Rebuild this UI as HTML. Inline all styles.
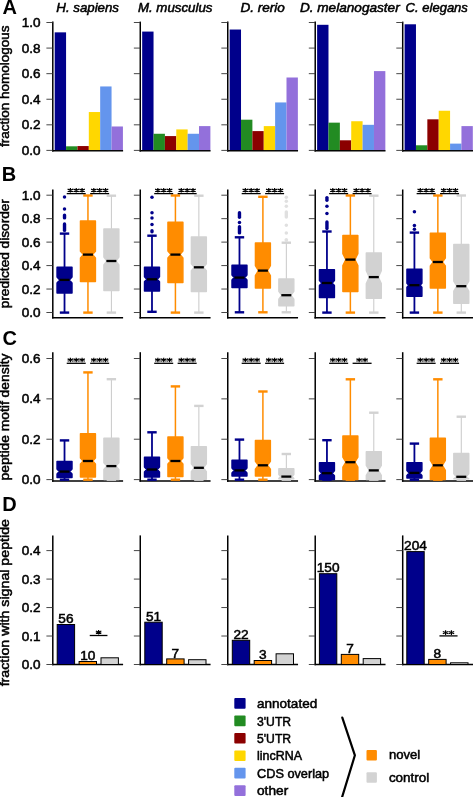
<!DOCTYPE html>
<html><head><meta charset="utf-8"><style>
html,body{margin:0;padding:0;background:#fff;}
svg{display:block;will-change:transform;}
text{font-family:"Liberation Sans",sans-serif;}
</style></head><body>
<svg width="473" height="797" viewBox="0 0 473 797">
<rect width="473" height="797" fill="#fff"/>
<text x="2.6" y="14" font-size="20" text-anchor="start" font-weight="bold" fill="#000">A</text>
<text x="1.7" y="181.3" font-size="20" text-anchor="start" font-weight="bold" fill="#000">B</text>
<text x="2.6" y="345.4" font-size="20" text-anchor="start" font-weight="bold" fill="#000">C</text>
<text x="2.2" y="510.6" font-size="20" text-anchor="start" font-weight="bold" fill="#000">D</text>
<text x="56.3" y="12.2" font-size="12.6" text-anchor="start" font-style="italic" textLength="62.7" lengthAdjust="spacingAndGlyphs" fill="#000" stroke="#000" stroke-width="0.5">H. sapiens</text>
<text x="137.9" y="12.2" font-size="12.6" text-anchor="start" font-style="italic" textLength="74.6" lengthAdjust="spacingAndGlyphs" fill="#000" stroke="#000" stroke-width="0.5">M. musculus</text>
<text x="240.4" y="12.2" font-size="12.6" text-anchor="start" font-style="italic" textLength="44.4" lengthAdjust="spacingAndGlyphs" fill="#000" stroke="#000" stroke-width="0.5">D. rerio</text>
<text x="299.9" y="12.2" font-size="12.6" text-anchor="start" font-style="italic" textLength="99.8" lengthAdjust="spacingAndGlyphs" fill="#000" stroke="#000" stroke-width="0.5">D. melanogaster</text>
<text x="405.6" y="12.2" font-size="12.6" text-anchor="start" font-style="italic" textLength="62.3" lengthAdjust="spacingAndGlyphs" fill="#000" stroke="#000" stroke-width="0.5">C. elegans</text>
<text transform="translate(9.4,86.25) rotate(-90)" x="0" y="0" font-size="12.2" text-anchor="middle" textLength="121.3" lengthAdjust="spacingAndGlyphs" stroke="#000" stroke-width="0.5">fraction homologous</text>
<text transform="translate(9.4,253.7) rotate(-90)" x="0" y="0" font-size="12.2" text-anchor="middle" textLength="109.2" lengthAdjust="spacingAndGlyphs" stroke="#000" stroke-width="0.5">predicted disorder</text>
<text transform="translate(9.4,417) rotate(-90)" x="0" y="0" font-size="12.2" text-anchor="middle" textLength="127" lengthAdjust="spacingAndGlyphs" stroke="#000" stroke-width="0.5">peptide motif density</text>
<text transform="translate(9.4,602.7) rotate(-90)" x="0" y="0" font-size="12.2" text-anchor="middle" textLength="167.3" lengthAdjust="spacingAndGlyphs" stroke="#000" stroke-width="0.5">fraction with signal peptide</text>
<line x1="52.8" y1="21.6" x2="52.8" y2="151.55" stroke="#000" stroke-width="1.5"/>
<line x1="52.05" y1="150.8" x2="123.1" y2="150.8" stroke="#000" stroke-width="1.5"/>
<line x1="46.4" y1="150.4" x2="52.8" y2="150.4" stroke="#333" stroke-width="0.9"/>
<line x1="46.4" y1="124.82" x2="52.8" y2="124.82" stroke="#333" stroke-width="0.9"/>
<line x1="46.4" y1="99.24" x2="52.8" y2="99.24" stroke="#333" stroke-width="0.9"/>
<line x1="46.4" y1="73.66" x2="52.8" y2="73.66" stroke="#333" stroke-width="0.9"/>
<line x1="46.4" y1="48.08" x2="52.8" y2="48.08" stroke="#333" stroke-width="0.9"/>
<line x1="46.4" y1="22.5" x2="52.8" y2="22.5" stroke="#333" stroke-width="0.9"/>
<text x="40.5" y="154.9" font-size="12.6" text-anchor="end" textLength="18.8" lengthAdjust="spacingAndGlyphs" fill="#000" stroke="#000" stroke-width="0.5">0.0</text>
<text x="40.5" y="129.32" font-size="12.6" text-anchor="end" textLength="18.8" lengthAdjust="spacingAndGlyphs" fill="#000" stroke="#000" stroke-width="0.5">0.2</text>
<text x="40.5" y="103.74" font-size="12.6" text-anchor="end" textLength="18.8" lengthAdjust="spacingAndGlyphs" fill="#000" stroke="#000" stroke-width="0.5">0.4</text>
<text x="40.5" y="78.16" font-size="12.6" text-anchor="end" textLength="18.8" lengthAdjust="spacingAndGlyphs" fill="#000" stroke="#000" stroke-width="0.5">0.6</text>
<text x="40.5" y="52.58" font-size="12.6" text-anchor="end" textLength="18.8" lengthAdjust="spacingAndGlyphs" fill="#000" stroke="#000" stroke-width="0.5">0.8</text>
<text x="40.5" y="27" font-size="12.6" text-anchor="end" textLength="18.8" lengthAdjust="spacingAndGlyphs" fill="#000" stroke="#000" stroke-width="0.5">1.0</text>
<line x1="140.27" y1="21.6" x2="140.27" y2="151.55" stroke="#000" stroke-width="1.5"/>
<line x1="139.52" y1="150.8" x2="210.57" y2="150.8" stroke="#000" stroke-width="1.5"/>
<line x1="133.87" y1="150.4" x2="140.27" y2="150.4" stroke="#333" stroke-width="0.9"/>
<line x1="133.87" y1="124.82" x2="140.27" y2="124.82" stroke="#333" stroke-width="0.9"/>
<line x1="133.87" y1="99.24" x2="140.27" y2="99.24" stroke="#333" stroke-width="0.9"/>
<line x1="133.87" y1="73.66" x2="140.27" y2="73.66" stroke="#333" stroke-width="0.9"/>
<line x1="133.87" y1="48.08" x2="140.27" y2="48.08" stroke="#333" stroke-width="0.9"/>
<line x1="133.87" y1="22.5" x2="140.27" y2="22.5" stroke="#333" stroke-width="0.9"/>
<line x1="227.75" y1="21.6" x2="227.75" y2="151.55" stroke="#000" stroke-width="1.5"/>
<line x1="227" y1="150.8" x2="298.05" y2="150.8" stroke="#000" stroke-width="1.5"/>
<line x1="221.35" y1="150.4" x2="227.75" y2="150.4" stroke="#333" stroke-width="0.9"/>
<line x1="221.35" y1="124.82" x2="227.75" y2="124.82" stroke="#333" stroke-width="0.9"/>
<line x1="221.35" y1="99.24" x2="227.75" y2="99.24" stroke="#333" stroke-width="0.9"/>
<line x1="221.35" y1="73.66" x2="227.75" y2="73.66" stroke="#333" stroke-width="0.9"/>
<line x1="221.35" y1="48.08" x2="227.75" y2="48.08" stroke="#333" stroke-width="0.9"/>
<line x1="221.35" y1="22.5" x2="227.75" y2="22.5" stroke="#333" stroke-width="0.9"/>
<line x1="315.22" y1="21.6" x2="315.22" y2="151.55" stroke="#000" stroke-width="1.5"/>
<line x1="314.47" y1="150.8" x2="385.52" y2="150.8" stroke="#000" stroke-width="1.5"/>
<line x1="308.82" y1="150.4" x2="315.22" y2="150.4" stroke="#333" stroke-width="0.9"/>
<line x1="308.82" y1="124.82" x2="315.22" y2="124.82" stroke="#333" stroke-width="0.9"/>
<line x1="308.82" y1="99.24" x2="315.22" y2="99.24" stroke="#333" stroke-width="0.9"/>
<line x1="308.82" y1="73.66" x2="315.22" y2="73.66" stroke="#333" stroke-width="0.9"/>
<line x1="308.82" y1="48.08" x2="315.22" y2="48.08" stroke="#333" stroke-width="0.9"/>
<line x1="308.82" y1="22.5" x2="315.22" y2="22.5" stroke="#333" stroke-width="0.9"/>
<line x1="402.7" y1="21.6" x2="402.7" y2="151.55" stroke="#000" stroke-width="1.5"/>
<line x1="401.95" y1="150.8" x2="473" y2="150.8" stroke="#000" stroke-width="1.5"/>
<line x1="396.3" y1="150.4" x2="402.7" y2="150.4" stroke="#333" stroke-width="0.9"/>
<line x1="396.3" y1="124.82" x2="402.7" y2="124.82" stroke="#333" stroke-width="0.9"/>
<line x1="396.3" y1="99.24" x2="402.7" y2="99.24" stroke="#333" stroke-width="0.9"/>
<line x1="396.3" y1="73.66" x2="402.7" y2="73.66" stroke="#333" stroke-width="0.9"/>
<line x1="396.3" y1="48.08" x2="402.7" y2="48.08" stroke="#333" stroke-width="0.9"/>
<line x1="396.3" y1="22.5" x2="402.7" y2="22.5" stroke="#333" stroke-width="0.9"/>
<rect x="54.7" y="32.35" width="11.37" height="117.7" fill="#00008B"/>
<rect x="66.07" y="146.31" width="11.37" height="3.74" fill="#228B22"/>
<rect x="77.44" y="146.05" width="11.37" height="4" fill="#8B0000"/>
<rect x="88.81" y="112.03" width="11.37" height="38.02" fill="#FFD700"/>
<rect x="100.18" y="86.45" width="11.37" height="63.6" fill="#6495ED"/>
<rect x="111.55" y="126.48" width="11.37" height="23.57" fill="#9370DB"/>
<rect x="142.17" y="31.58" width="11.37" height="118.47" fill="#00008B"/>
<rect x="153.54" y="133.77" width="11.37" height="16.28" fill="#228B22"/>
<rect x="164.91" y="136.08" width="11.37" height="13.97" fill="#8B0000"/>
<rect x="176.28" y="129.42" width="11.37" height="20.63" fill="#FFD700"/>
<rect x="187.65" y="133.77" width="11.37" height="16.28" fill="#6495ED"/>
<rect x="199.02" y="126.1" width="11.37" height="23.95" fill="#9370DB"/>
<rect x="229.65" y="29.53" width="11.37" height="120.52" fill="#00008B"/>
<rect x="241.02" y="119.7" width="11.37" height="30.35" fill="#228B22"/>
<rect x="252.39" y="131.09" width="11.37" height="18.96" fill="#8B0000"/>
<rect x="263.76" y="126.1" width="11.37" height="23.95" fill="#FFD700"/>
<rect x="275.13" y="102.44" width="11.37" height="47.61" fill="#6495ED"/>
<rect x="286.5" y="77.5" width="11.37" height="72.55" fill="#9370DB"/>
<rect x="317.12" y="24.8" width="11.37" height="125.25" fill="#00008B"/>
<rect x="328.49" y="122.65" width="11.37" height="27.4" fill="#228B22"/>
<rect x="339.86" y="140.3" width="11.37" height="9.75" fill="#8B0000"/>
<rect x="351.23" y="121.24" width="11.37" height="28.81" fill="#FFD700"/>
<rect x="362.6" y="124.82" width="11.37" height="25.23" fill="#6495ED"/>
<rect x="373.97" y="71.1" width="11.37" height="78.95" fill="#9370DB"/>
<rect x="404.6" y="24.29" width="11.37" height="125.76" fill="#00008B"/>
<rect x="415.97" y="145.28" width="11.37" height="4.77" fill="#228B22"/>
<rect x="427.34" y="119.32" width="11.37" height="30.73" fill="#8B0000"/>
<rect x="438.71" y="110.75" width="11.37" height="39.3" fill="#FFD700"/>
<rect x="450.08" y="143.62" width="11.37" height="6.43" fill="#6495ED"/>
<rect x="461.45" y="126.1" width="11.37" height="23.95" fill="#9370DB"/>
<line x1="52.8" y1="189.5" x2="52.8" y2="318.55" stroke="#000" stroke-width="1.5"/>
<line x1="52.05" y1="317.8" x2="123.1" y2="317.8" stroke="#000" stroke-width="1.5"/>
<line x1="46.4" y1="312.5" x2="52.8" y2="312.5" stroke="#333" stroke-width="0.9"/>
<line x1="46.4" y1="289.04" x2="52.8" y2="289.04" stroke="#333" stroke-width="0.9"/>
<line x1="46.4" y1="265.58" x2="52.8" y2="265.58" stroke="#333" stroke-width="0.9"/>
<line x1="46.4" y1="242.12" x2="52.8" y2="242.12" stroke="#333" stroke-width="0.9"/>
<line x1="46.4" y1="218.66" x2="52.8" y2="218.66" stroke="#333" stroke-width="0.9"/>
<line x1="46.4" y1="195.2" x2="52.8" y2="195.2" stroke="#333" stroke-width="0.9"/>
<text x="40.5" y="317" font-size="12.6" text-anchor="end" textLength="18.8" lengthAdjust="spacingAndGlyphs" fill="#000" stroke="#000" stroke-width="0.5">0.0</text>
<text x="40.5" y="293.54" font-size="12.6" text-anchor="end" textLength="18.8" lengthAdjust="spacingAndGlyphs" fill="#000" stroke="#000" stroke-width="0.5">0.2</text>
<text x="40.5" y="270.08" font-size="12.6" text-anchor="end" textLength="18.8" lengthAdjust="spacingAndGlyphs" fill="#000" stroke="#000" stroke-width="0.5">0.4</text>
<text x="40.5" y="246.62" font-size="12.6" text-anchor="end" textLength="18.8" lengthAdjust="spacingAndGlyphs" fill="#000" stroke="#000" stroke-width="0.5">0.6</text>
<text x="40.5" y="223.16" font-size="12.6" text-anchor="end" textLength="18.8" lengthAdjust="spacingAndGlyphs" fill="#000" stroke="#000" stroke-width="0.5">0.8</text>
<text x="40.5" y="199.7" font-size="12.6" text-anchor="end" textLength="18.8" lengthAdjust="spacingAndGlyphs" fill="#000" stroke="#000" stroke-width="0.5">1.0</text>
<line x1="140.27" y1="189.5" x2="140.27" y2="318.55" stroke="#000" stroke-width="1.5"/>
<line x1="139.52" y1="317.8" x2="210.57" y2="317.8" stroke="#000" stroke-width="1.5"/>
<line x1="133.87" y1="312.5" x2="140.27" y2="312.5" stroke="#333" stroke-width="0.9"/>
<line x1="133.87" y1="289.04" x2="140.27" y2="289.04" stroke="#333" stroke-width="0.9"/>
<line x1="133.87" y1="265.58" x2="140.27" y2="265.58" stroke="#333" stroke-width="0.9"/>
<line x1="133.87" y1="242.12" x2="140.27" y2="242.12" stroke="#333" stroke-width="0.9"/>
<line x1="133.87" y1="218.66" x2="140.27" y2="218.66" stroke="#333" stroke-width="0.9"/>
<line x1="133.87" y1="195.2" x2="140.27" y2="195.2" stroke="#333" stroke-width="0.9"/>
<line x1="227.75" y1="189.5" x2="227.75" y2="318.55" stroke="#000" stroke-width="1.5"/>
<line x1="227" y1="317.8" x2="298.05" y2="317.8" stroke="#000" stroke-width="1.5"/>
<line x1="221.35" y1="312.5" x2="227.75" y2="312.5" stroke="#333" stroke-width="0.9"/>
<line x1="221.35" y1="289.04" x2="227.75" y2="289.04" stroke="#333" stroke-width="0.9"/>
<line x1="221.35" y1="265.58" x2="227.75" y2="265.58" stroke="#333" stroke-width="0.9"/>
<line x1="221.35" y1="242.12" x2="227.75" y2="242.12" stroke="#333" stroke-width="0.9"/>
<line x1="221.35" y1="218.66" x2="227.75" y2="218.66" stroke="#333" stroke-width="0.9"/>
<line x1="221.35" y1="195.2" x2="227.75" y2="195.2" stroke="#333" stroke-width="0.9"/>
<line x1="315.22" y1="189.5" x2="315.22" y2="318.55" stroke="#000" stroke-width="1.5"/>
<line x1="314.47" y1="317.8" x2="385.52" y2="317.8" stroke="#000" stroke-width="1.5"/>
<line x1="308.82" y1="312.5" x2="315.22" y2="312.5" stroke="#333" stroke-width="0.9"/>
<line x1="308.82" y1="289.04" x2="315.22" y2="289.04" stroke="#333" stroke-width="0.9"/>
<line x1="308.82" y1="265.58" x2="315.22" y2="265.58" stroke="#333" stroke-width="0.9"/>
<line x1="308.82" y1="242.12" x2="315.22" y2="242.12" stroke="#333" stroke-width="0.9"/>
<line x1="308.82" y1="218.66" x2="315.22" y2="218.66" stroke="#333" stroke-width="0.9"/>
<line x1="308.82" y1="195.2" x2="315.22" y2="195.2" stroke="#333" stroke-width="0.9"/>
<line x1="402.7" y1="189.5" x2="402.7" y2="318.55" stroke="#000" stroke-width="1.5"/>
<line x1="401.95" y1="317.8" x2="473" y2="317.8" stroke="#000" stroke-width="1.5"/>
<line x1="396.3" y1="312.5" x2="402.7" y2="312.5" stroke="#333" stroke-width="0.9"/>
<line x1="396.3" y1="289.04" x2="402.7" y2="289.04" stroke="#333" stroke-width="0.9"/>
<line x1="396.3" y1="265.58" x2="402.7" y2="265.58" stroke="#333" stroke-width="0.9"/>
<line x1="396.3" y1="242.12" x2="402.7" y2="242.12" stroke="#333" stroke-width="0.9"/>
<line x1="396.3" y1="218.66" x2="402.7" y2="218.66" stroke="#333" stroke-width="0.9"/>
<line x1="396.3" y1="195.2" x2="402.7" y2="195.2" stroke="#333" stroke-width="0.9"/>
<line x1="64.52" y1="233.6" x2="64.52" y2="267.3" stroke="#00008B" stroke-width="1.8"/>
<line x1="64.52" y1="293.1" x2="64.52" y2="312.6" stroke="#00008B" stroke-width="1.8"/>
<line x1="59.82" y1="233.6" x2="69.22" y2="233.6" stroke="#00008B" stroke-width="2.4"/>
<line x1="59.82" y1="312.6" x2="69.22" y2="312.6" stroke="#00008B" stroke-width="2.4"/>
<polygon points="57.07,267.3 71.97,267.3 71.97,276.9 69.27,279.9 71.97,282.9 71.97,293.1 57.07,293.1 57.07,282.9 59.77,279.9 57.07,276.9" fill="#00008B" stroke="#00008B" stroke-width="1.5" stroke-linejoin="round"/>
<line x1="59.52" y1="279.9" x2="69.52" y2="279.9" stroke="#000" stroke-width="2.3"/>
<circle cx="64.52" cy="197" r="1.75" fill="#00008B"/>
<circle cx="64.52" cy="209.1" r="1.75" fill="#00008B"/>
<line x1="64.52" y1="215.1" x2="64.52" y2="217.9" stroke="#00008B" stroke-width="3.4" stroke-linecap="round"/>
<line x1="64.52" y1="223.9" x2="64.52" y2="230.4" stroke="#00008B" stroke-width="3.4" stroke-linecap="round"/>
<line x1="87.95" y1="195.5" x2="87.95" y2="220.9" stroke="#FF8C00" stroke-width="1.5"/>
<line x1="87.95" y1="281.6" x2="87.95" y2="312.6" stroke="#FF8C00" stroke-width="1.5"/>
<line x1="83.25" y1="195.5" x2="92.65" y2="195.5" stroke="#FF8C00" stroke-width="2.4"/>
<line x1="83.25" y1="312.6" x2="92.65" y2="312.6" stroke="#FF8C00" stroke-width="2.4"/>
<polygon points="80.5,220.9 95.4,220.9 95.4,251.2 92.4,254.6 95.4,258 95.4,281.6 80.5,281.6 80.5,258 83.5,254.6 80.5,251.2" fill="#FF8C00" stroke="#FF8C00" stroke-width="1.5" stroke-linejoin="round"/>
<line x1="82.95" y1="254.6" x2="92.95" y2="254.6" stroke="#000" stroke-width="2.3"/>
<line x1="111.38" y1="195.7" x2="111.38" y2="229" stroke="#C8C8C8" stroke-width="1"/>
<line x1="111.38" y1="290.6" x2="111.38" y2="312.6" stroke="#C8C8C8" stroke-width="1"/>
<line x1="106.68" y1="195.7" x2="116.08" y2="195.7" stroke="#D2D2D2" stroke-width="2.4"/>
<line x1="106.68" y1="312.6" x2="116.08" y2="312.6" stroke="#D2D2D2" stroke-width="2.4"/>
<polygon points="103.93,229 118.83,229 118.83,257 115.83,261 118.83,265 118.83,290.6 103.93,290.6 103.93,265 106.93,261 103.93,257" fill="#D2D2D2" stroke="#D2D2D2" stroke-width="1.5" stroke-linejoin="round"/>
<line x1="106.38" y1="261" x2="116.38" y2="261" stroke="#000" stroke-width="2.3"/>
<line x1="66.73" y1="193.6" x2="85.73" y2="193.6" stroke="#000" stroke-width="1.3"/>
<path d="M70.38 188V192.6M67.63 189.15L73.13 191.45M67.63 191.45L73.13 189.15" stroke="#000" stroke-width="1.2" fill="none"/>
<path d="M76.23 188V192.6M73.48 189.15L78.98 191.45M73.48 191.45L78.98 189.15" stroke="#000" stroke-width="1.2" fill="none"/>
<path d="M82.08 188V192.6M79.33 189.15L84.83 191.45M79.33 191.45L84.83 189.15" stroke="#000" stroke-width="1.2" fill="none"/>
<line x1="90.17" y1="193.6" x2="109.17" y2="193.6" stroke="#000" stroke-width="1.3"/>
<path d="M93.82 188V192.6M91.07 189.15L96.57 191.45M91.07 191.45L96.57 189.15" stroke="#000" stroke-width="1.2" fill="none"/>
<path d="M99.67 188V192.6M96.92 189.15L102.42 191.45M96.92 191.45L102.42 189.15" stroke="#000" stroke-width="1.2" fill="none"/>
<path d="M105.52 188V192.6M102.77 189.15L108.27 191.45M102.77 191.45L108.27 189.15" stroke="#000" stroke-width="1.2" fill="none"/>
<line x1="151.99" y1="235.7" x2="151.99" y2="267.3" stroke="#00008B" stroke-width="1.8"/>
<line x1="151.99" y1="291" x2="151.99" y2="311.8" stroke="#00008B" stroke-width="1.8"/>
<line x1="147.29" y1="235.7" x2="156.69" y2="235.7" stroke="#00008B" stroke-width="2.4"/>
<line x1="147.29" y1="311.8" x2="156.69" y2="311.8" stroke="#00008B" stroke-width="2.4"/>
<polygon points="144.54,267.3 159.44,267.3 159.44,276.8 157.19,279.3 159.44,281.8 159.44,291 144.54,291 144.54,281.8 146.79,279.3 144.54,276.8" fill="#00008B" stroke="#00008B" stroke-width="1.5" stroke-linejoin="round"/>
<line x1="146.99" y1="279.3" x2="156.99" y2="279.3" stroke="#000" stroke-width="2.3"/>
<circle cx="151.99" cy="197.2" r="1.75" fill="#00008B"/>
<circle cx="151.99" cy="212.7" r="1.75" fill="#00008B"/>
<circle cx="151.99" cy="217.9" r="1.75" fill="#00008B"/>
<circle cx="151.99" cy="224.6" r="1.75" fill="#00008B"/>
<line x1="151.99" y1="230.8" x2="151.99" y2="231.7" stroke="#00008B" stroke-width="3.4" stroke-linecap="round"/>
<line x1="175.42" y1="195.5" x2="175.42" y2="222.2" stroke="#FF8C00" stroke-width="1.5"/>
<line x1="175.42" y1="282.5" x2="175.42" y2="312.6" stroke="#FF8C00" stroke-width="1.5"/>
<line x1="170.72" y1="195.5" x2="180.12" y2="195.5" stroke="#FF8C00" stroke-width="2.4"/>
<line x1="170.72" y1="312.6" x2="180.12" y2="312.6" stroke="#FF8C00" stroke-width="2.4"/>
<polygon points="167.97,222.2 182.87,222.2 182.87,251.1 179.87,254.6 182.87,258.1 182.87,282.5 167.97,282.5 167.97,258.1 170.97,254.6 167.97,251.1" fill="#FF8C00" stroke="#FF8C00" stroke-width="1.5" stroke-linejoin="round"/>
<line x1="170.42" y1="254.6" x2="180.42" y2="254.6" stroke="#000" stroke-width="2.3"/>
<line x1="198.86" y1="195.7" x2="198.86" y2="236.9" stroke="#C8C8C8" stroke-width="1"/>
<line x1="198.86" y1="291.4" x2="198.86" y2="312.6" stroke="#C8C8C8" stroke-width="1"/>
<line x1="194.16" y1="195.7" x2="203.56" y2="195.7" stroke="#D2D2D2" stroke-width="2.4"/>
<line x1="194.16" y1="312.6" x2="203.56" y2="312.6" stroke="#D2D2D2" stroke-width="2.4"/>
<polygon points="191.41,236.9 206.31,236.9 206.31,263.8 203.31,267.3 206.31,270.8 206.31,291.4 191.41,291.4 191.41,270.8 194.41,267.3 191.41,263.8" fill="#D2D2D2" stroke="#D2D2D2" stroke-width="1.5" stroke-linejoin="round"/>
<line x1="193.86" y1="267.3" x2="203.86" y2="267.3" stroke="#000" stroke-width="2.3"/>
<line x1="154.21" y1="193.6" x2="173.21" y2="193.6" stroke="#000" stroke-width="1.3"/>
<path d="M157.86 188V192.6M155.11 189.15L160.61 191.45M155.11 191.45L160.61 189.15" stroke="#000" stroke-width="1.2" fill="none"/>
<path d="M163.71 188V192.6M160.96 189.15L166.46 191.45M160.96 191.45L166.46 189.15" stroke="#000" stroke-width="1.2" fill="none"/>
<path d="M169.56 188V192.6M166.81 189.15L172.31 191.45M166.81 191.45L172.31 189.15" stroke="#000" stroke-width="1.2" fill="none"/>
<line x1="177.64" y1="193.6" x2="196.64" y2="193.6" stroke="#000" stroke-width="1.3"/>
<path d="M181.29 188V192.6M178.54 189.15L184.04 191.45M178.54 191.45L184.04 189.15" stroke="#000" stroke-width="1.2" fill="none"/>
<path d="M187.14 188V192.6M184.39 189.15L189.89 191.45M184.39 191.45L189.89 189.15" stroke="#000" stroke-width="1.2" fill="none"/>
<path d="M192.99 188V192.6M190.24 189.15L195.74 191.45M190.24 191.45L195.74 189.15" stroke="#000" stroke-width="1.2" fill="none"/>
<line x1="239.47" y1="237.3" x2="239.47" y2="265.2" stroke="#00008B" stroke-width="1.8"/>
<line x1="239.47" y1="287.6" x2="239.47" y2="312.3" stroke="#00008B" stroke-width="1.8"/>
<line x1="234.77" y1="237.3" x2="244.17" y2="237.3" stroke="#00008B" stroke-width="2.4"/>
<line x1="234.77" y1="312.3" x2="244.17" y2="312.3" stroke="#00008B" stroke-width="2.4"/>
<polygon points="232.02,265.2 246.92,265.2 246.92,275.1 244.67,277.6 246.92,280.1 246.92,287.6 232.02,287.6 232.02,280.1 234.27,277.6 232.02,275.1" fill="#00008B" stroke="#00008B" stroke-width="1.5" stroke-linejoin="round"/>
<line x1="234.47" y1="277.6" x2="244.47" y2="277.6" stroke="#000" stroke-width="2.3"/>
<line x1="239.47" y1="212.8" x2="239.47" y2="217.2" stroke="#00008B" stroke-width="3.4" stroke-linecap="round"/>
<circle cx="239.47" cy="222.4" r="1.75" fill="#00008B"/>
<line x1="239.47" y1="226.7" x2="239.47" y2="232.9" stroke="#00008B" stroke-width="3.4" stroke-linecap="round"/>
<line x1="262.9" y1="196.8" x2="262.9" y2="242.9" stroke="#FF8C00" stroke-width="1.5"/>
<line x1="262.9" y1="288" x2="262.9" y2="312.3" stroke="#FF8C00" stroke-width="1.5"/>
<line x1="258.2" y1="196.8" x2="267.6" y2="196.8" stroke="#FF8C00" stroke-width="2.4"/>
<line x1="258.2" y1="312.3" x2="267.6" y2="312.3" stroke="#FF8C00" stroke-width="2.4"/>
<polygon points="255.45,242.9 270.35,242.9 270.35,265.6 267.35,270.6 270.35,275.6 270.35,288 255.45,288 255.45,275.6 258.45,270.6 255.45,265.6" fill="#FF8C00" stroke="#FF8C00" stroke-width="1.5" stroke-linejoin="round"/>
<line x1="257.9" y1="270.6" x2="267.9" y2="270.6" stroke="#000" stroke-width="2.3"/>
<line x1="286.33" y1="242.7" x2="286.33" y2="279.1" stroke="#C8C8C8" stroke-width="1"/>
<line x1="286.33" y1="305.8" x2="286.33" y2="312.3" stroke="#C8C8C8" stroke-width="1"/>
<line x1="281.63" y1="242.7" x2="291.03" y2="242.7" stroke="#D2D2D2" stroke-width="2.4"/>
<line x1="281.63" y1="312.3" x2="291.03" y2="312.3" stroke="#D2D2D2" stroke-width="2.4"/>
<polygon points="278.88,279.1 293.78,279.1 293.78,291.2 290.78,295.2 293.78,299.2 293.78,305.8 278.88,305.8 278.88,299.2 281.88,295.2 278.88,291.2" fill="#D2D2D2" stroke="#D2D2D2" stroke-width="1.5" stroke-linejoin="round"/>
<line x1="281.33" y1="295.2" x2="291.33" y2="295.2" stroke="#000" stroke-width="2.3"/>
<circle cx="286.33" cy="197.2" r="1.75" fill="#E0E0E0"/>
<circle cx="286.33" cy="201.3" r="1.75" fill="#E0E0E0"/>
<circle cx="286.33" cy="206.2" r="1.75" fill="#E0E0E0"/>
<line x1="286.33" y1="211.9" x2="286.33" y2="217" stroke="#E0E0E0" stroke-width="3.4" stroke-linecap="round"/>
<line x1="286.33" y1="225.1" x2="286.33" y2="225.3" stroke="#E0E0E0" stroke-width="3.4" stroke-linecap="round"/>
<circle cx="286.33" cy="232.9" r="1.75" fill="#E0E0E0"/>
<line x1="286.33" y1="240.6" x2="286.33" y2="239.6" stroke="#E0E0E0" stroke-width="3.4" stroke-linecap="round"/>
<line x1="241.68" y1="193.6" x2="260.68" y2="193.6" stroke="#000" stroke-width="1.3"/>
<path d="M245.33 188V192.6M242.58 189.15L248.08 191.45M242.58 191.45L248.08 189.15" stroke="#000" stroke-width="1.2" fill="none"/>
<path d="M251.18 188V192.6M248.43 189.15L253.93 191.45M248.43 191.45L253.93 189.15" stroke="#000" stroke-width="1.2" fill="none"/>
<path d="M257.03 188V192.6M254.28 189.15L259.78 191.45M254.28 191.45L259.78 189.15" stroke="#000" stroke-width="1.2" fill="none"/>
<line x1="265.12" y1="193.6" x2="284.12" y2="193.6" stroke="#000" stroke-width="1.3"/>
<path d="M268.77 188V192.6M266.02 189.15L271.52 191.45M266.02 191.45L271.52 189.15" stroke="#000" stroke-width="1.2" fill="none"/>
<path d="M274.62 188V192.6M271.87 189.15L277.37 191.45M271.87 191.45L277.37 189.15" stroke="#000" stroke-width="1.2" fill="none"/>
<path d="M280.47 188V192.6M277.72 189.15L283.22 191.45M277.72 191.45L283.22 189.15" stroke="#000" stroke-width="1.2" fill="none"/>
<line x1="326.94" y1="231.5" x2="326.94" y2="269.8" stroke="#00008B" stroke-width="1.8"/>
<line x1="326.94" y1="297.4" x2="326.94" y2="312.6" stroke="#00008B" stroke-width="1.8"/>
<line x1="322.24" y1="231.5" x2="331.64" y2="231.5" stroke="#00008B" stroke-width="2.4"/>
<line x1="322.24" y1="312.6" x2="331.64" y2="312.6" stroke="#00008B" stroke-width="2.4"/>
<polygon points="319.49,269.8 334.39,269.8 334.39,280.5 332.14,283 334.39,285.5 334.39,297.4 319.49,297.4 319.49,285.5 321.74,283 319.49,280.5" fill="#00008B" stroke="#00008B" stroke-width="1.5" stroke-linejoin="round"/>
<line x1="321.94" y1="283" x2="331.94" y2="283" stroke="#000" stroke-width="2.3"/>
<line x1="326.94" y1="197.6" x2="326.94" y2="200.3" stroke="#00008B" stroke-width="3.4" stroke-linecap="round"/>
<circle cx="326.94" cy="206.3" r="1.75" fill="#00008B"/>
<circle cx="326.94" cy="213.5" r="1.75" fill="#00008B"/>
<line x1="326.94" y1="222" x2="326.94" y2="228.6" stroke="#00008B" stroke-width="3.4" stroke-linecap="round"/>
<line x1="350.37" y1="195.5" x2="350.37" y2="235.4" stroke="#FF8C00" stroke-width="1.5"/>
<line x1="350.37" y1="291.4" x2="350.37" y2="312.6" stroke="#FF8C00" stroke-width="1.5"/>
<line x1="345.67" y1="195.5" x2="355.07" y2="195.5" stroke="#FF8C00" stroke-width="2.4"/>
<line x1="345.67" y1="312.6" x2="355.07" y2="312.6" stroke="#FF8C00" stroke-width="2.4"/>
<polygon points="342.92,235.4 357.82,235.4 357.82,253.6 354.82,259.6 357.82,265.6 357.82,291.4 342.92,291.4 342.92,265.6 345.92,259.6 342.92,253.6" fill="#FF8C00" stroke="#FF8C00" stroke-width="1.5" stroke-linejoin="round"/>
<line x1="345.37" y1="259.6" x2="355.37" y2="259.6" stroke="#000" stroke-width="2.3"/>
<line x1="373.81" y1="195.7" x2="373.81" y2="253" stroke="#C8C8C8" stroke-width="1"/>
<line x1="373.81" y1="298.2" x2="373.81" y2="312.6" stroke="#C8C8C8" stroke-width="1"/>
<line x1="369.11" y1="195.7" x2="378.51" y2="195.7" stroke="#D2D2D2" stroke-width="2.4"/>
<line x1="369.11" y1="312.6" x2="378.51" y2="312.6" stroke="#D2D2D2" stroke-width="2.4"/>
<polygon points="366.36,253 381.26,253 381.26,270.7 378.26,277.1 381.26,283.5 381.26,298.2 366.36,298.2 366.36,283.5 369.36,277.1 366.36,270.7" fill="#D2D2D2" stroke="#D2D2D2" stroke-width="1.5" stroke-linejoin="round"/>
<line x1="368.81" y1="277.1" x2="378.81" y2="277.1" stroke="#000" stroke-width="2.3"/>
<line x1="329.16" y1="193.6" x2="348.16" y2="193.6" stroke="#000" stroke-width="1.3"/>
<path d="M332.81 188V192.6M330.06 189.15L335.56 191.45M330.06 191.45L335.56 189.15" stroke="#000" stroke-width="1.2" fill="none"/>
<path d="M338.66 188V192.6M335.91 189.15L341.41 191.45M335.91 191.45L341.41 189.15" stroke="#000" stroke-width="1.2" fill="none"/>
<path d="M344.51 188V192.6M341.76 189.15L347.26 191.45M341.76 191.45L347.26 189.15" stroke="#000" stroke-width="1.2" fill="none"/>
<line x1="352.59" y1="193.6" x2="371.59" y2="193.6" stroke="#000" stroke-width="1.3"/>
<path d="M356.24 188V192.6M353.49 189.15L358.99 191.45M353.49 191.45L358.99 189.15" stroke="#000" stroke-width="1.2" fill="none"/>
<path d="M362.09 188V192.6M359.34 189.15L364.84 191.45M359.34 191.45L364.84 189.15" stroke="#000" stroke-width="1.2" fill="none"/>
<path d="M367.94 188V192.6M365.19 189.15L370.69 191.45M365.19 191.45L370.69 189.15" stroke="#000" stroke-width="1.2" fill="none"/>
<line x1="414.42" y1="232.6" x2="414.42" y2="269.3" stroke="#00008B" stroke-width="1.8"/>
<line x1="414.42" y1="296.3" x2="414.42" y2="312.6" stroke="#00008B" stroke-width="1.8"/>
<line x1="409.72" y1="232.6" x2="419.12" y2="232.6" stroke="#00008B" stroke-width="2.4"/>
<line x1="409.72" y1="312.6" x2="419.12" y2="312.6" stroke="#00008B" stroke-width="2.4"/>
<polygon points="406.97,269.3 421.87,269.3 421.87,283.2 420.07,285.2 421.87,287.2 421.87,296.3 406.97,296.3 406.97,287.2 408.77,285.2 406.97,283.2" fill="#00008B" stroke="#00008B" stroke-width="1.5" stroke-linejoin="round"/>
<line x1="409.42" y1="285.2" x2="419.42" y2="285.2" stroke="#000" stroke-width="2.3"/>
<circle cx="414.42" cy="211.8" r="1.75" fill="#00008B"/>
<circle cx="414.42" cy="225.4" r="1.75" fill="#00008B"/>
<circle cx="414.42" cy="229.2" r="1.75" fill="#00008B"/>
<line x1="437.85" y1="195.5" x2="437.85" y2="233.2" stroke="#FF8C00" stroke-width="1.5"/>
<line x1="437.85" y1="288" x2="437.85" y2="312.6" stroke="#FF8C00" stroke-width="1.5"/>
<line x1="433.15" y1="195.5" x2="442.55" y2="195.5" stroke="#FF8C00" stroke-width="2.4"/>
<line x1="433.15" y1="312.6" x2="442.55" y2="312.6" stroke="#FF8C00" stroke-width="2.4"/>
<polygon points="430.4,233.2 445.3,233.2 445.3,258 442.3,262 445.3,266 445.3,288 430.4,288 430.4,266 433.4,262 430.4,258" fill="#FF8C00" stroke="#FF8C00" stroke-width="1.5" stroke-linejoin="round"/>
<line x1="432.85" y1="262" x2="442.85" y2="262" stroke="#000" stroke-width="2.3"/>
<line x1="461.28" y1="195.5" x2="461.28" y2="244.5" stroke="#C8C8C8" stroke-width="1"/>
<line x1="461.28" y1="303.3" x2="461.28" y2="312.6" stroke="#C8C8C8" stroke-width="1"/>
<line x1="456.58" y1="195.5" x2="465.98" y2="195.5" stroke="#D2D2D2" stroke-width="2.4"/>
<line x1="456.58" y1="312.6" x2="465.98" y2="312.6" stroke="#D2D2D2" stroke-width="2.4"/>
<polygon points="453.83,244.5 468.73,244.5 468.73,281.2 465.73,286.2 468.73,291.2 468.73,303.3 453.83,303.3 453.83,291.2 456.83,286.2 453.83,281.2" fill="#D2D2D2" stroke="#D2D2D2" stroke-width="1.5" stroke-linejoin="round"/>
<line x1="456.28" y1="286.2" x2="466.28" y2="286.2" stroke="#000" stroke-width="2.3"/>
<line x1="416.63" y1="193.6" x2="435.63" y2="193.6" stroke="#000" stroke-width="1.3"/>
<path d="M420.28 188V192.6M417.53 189.15L423.03 191.45M417.53 191.45L423.03 189.15" stroke="#000" stroke-width="1.2" fill="none"/>
<path d="M426.13 188V192.6M423.38 189.15L428.88 191.45M423.38 191.45L428.88 189.15" stroke="#000" stroke-width="1.2" fill="none"/>
<path d="M431.98 188V192.6M429.23 189.15L434.73 191.45M429.23 191.45L434.73 189.15" stroke="#000" stroke-width="1.2" fill="none"/>
<line x1="440.07" y1="193.6" x2="459.07" y2="193.6" stroke="#000" stroke-width="1.3"/>
<path d="M443.72 188V192.6M440.97 189.15L446.47 191.45M440.97 191.45L446.47 189.15" stroke="#000" stroke-width="1.2" fill="none"/>
<path d="M449.57 188V192.6M446.82 189.15L452.32 191.45M446.82 191.45L452.32 189.15" stroke="#000" stroke-width="1.2" fill="none"/>
<path d="M455.42 188V192.6M452.67 189.15L458.17 191.45M452.67 191.45L458.17 189.15" stroke="#000" stroke-width="1.2" fill="none"/>
<line x1="52.8" y1="352.2" x2="52.8" y2="481.65" stroke="#000" stroke-width="1.5"/>
<line x1="52.05" y1="480.9" x2="123.1" y2="480.9" stroke="#000" stroke-width="1.5"/>
<line x1="46.4" y1="479.6" x2="52.8" y2="479.6" stroke="#333" stroke-width="0.9"/>
<line x1="46.4" y1="439.23" x2="52.8" y2="439.23" stroke="#333" stroke-width="0.9"/>
<line x1="46.4" y1="398.87" x2="52.8" y2="398.87" stroke="#333" stroke-width="0.9"/>
<line x1="46.4" y1="358.5" x2="52.8" y2="358.5" stroke="#333" stroke-width="0.9"/>
<text x="40.5" y="484.1" font-size="12.6" text-anchor="end" textLength="18.8" lengthAdjust="spacingAndGlyphs" fill="#000" stroke="#000" stroke-width="0.5">0.0</text>
<text x="40.5" y="443.73" font-size="12.6" text-anchor="end" textLength="18.8" lengthAdjust="spacingAndGlyphs" fill="#000" stroke="#000" stroke-width="0.5">0.2</text>
<text x="40.5" y="403.37" font-size="12.6" text-anchor="end" textLength="18.8" lengthAdjust="spacingAndGlyphs" fill="#000" stroke="#000" stroke-width="0.5">0.4</text>
<text x="40.5" y="363" font-size="12.6" text-anchor="end" textLength="18.8" lengthAdjust="spacingAndGlyphs" fill="#000" stroke="#000" stroke-width="0.5">0.6</text>
<line x1="140.27" y1="352.2" x2="140.27" y2="481.65" stroke="#000" stroke-width="1.5"/>
<line x1="139.52" y1="480.9" x2="210.57" y2="480.9" stroke="#000" stroke-width="1.5"/>
<line x1="133.87" y1="479.6" x2="140.27" y2="479.6" stroke="#333" stroke-width="0.9"/>
<line x1="133.87" y1="439.23" x2="140.27" y2="439.23" stroke="#333" stroke-width="0.9"/>
<line x1="133.87" y1="398.87" x2="140.27" y2="398.87" stroke="#333" stroke-width="0.9"/>
<line x1="133.87" y1="358.5" x2="140.27" y2="358.5" stroke="#333" stroke-width="0.9"/>
<line x1="227.75" y1="352.2" x2="227.75" y2="481.65" stroke="#000" stroke-width="1.5"/>
<line x1="227" y1="480.9" x2="298.05" y2="480.9" stroke="#000" stroke-width="1.5"/>
<line x1="221.35" y1="479.6" x2="227.75" y2="479.6" stroke="#333" stroke-width="0.9"/>
<line x1="221.35" y1="439.23" x2="227.75" y2="439.23" stroke="#333" stroke-width="0.9"/>
<line x1="221.35" y1="398.87" x2="227.75" y2="398.87" stroke="#333" stroke-width="0.9"/>
<line x1="221.35" y1="358.5" x2="227.75" y2="358.5" stroke="#333" stroke-width="0.9"/>
<line x1="315.22" y1="352.2" x2="315.22" y2="481.65" stroke="#000" stroke-width="1.5"/>
<line x1="314.47" y1="480.9" x2="385.52" y2="480.9" stroke="#000" stroke-width="1.5"/>
<line x1="308.82" y1="479.6" x2="315.22" y2="479.6" stroke="#333" stroke-width="0.9"/>
<line x1="308.82" y1="439.23" x2="315.22" y2="439.23" stroke="#333" stroke-width="0.9"/>
<line x1="308.82" y1="398.87" x2="315.22" y2="398.87" stroke="#333" stroke-width="0.9"/>
<line x1="308.82" y1="358.5" x2="315.22" y2="358.5" stroke="#333" stroke-width="0.9"/>
<line x1="402.7" y1="352.2" x2="402.7" y2="481.65" stroke="#000" stroke-width="1.5"/>
<line x1="401.95" y1="480.9" x2="473" y2="480.9" stroke="#000" stroke-width="1.5"/>
<line x1="396.3" y1="479.6" x2="402.7" y2="479.6" stroke="#333" stroke-width="0.9"/>
<line x1="396.3" y1="439.23" x2="402.7" y2="439.23" stroke="#333" stroke-width="0.9"/>
<line x1="396.3" y1="398.87" x2="402.7" y2="398.87" stroke="#333" stroke-width="0.9"/>
<line x1="396.3" y1="358.5" x2="402.7" y2="358.5" stroke="#333" stroke-width="0.9"/>
<line x1="64.52" y1="440.4" x2="64.52" y2="461.4" stroke="#00008B" stroke-width="1.8"/>
<line x1="64.52" y1="477.6" x2="64.52" y2="479.7" stroke="#00008B" stroke-width="1.8"/>
<line x1="59.82" y1="440.4" x2="69.22" y2="440.4" stroke="#00008B" stroke-width="2.4"/>
<line x1="59.82" y1="479.7" x2="69.22" y2="479.7" stroke="#00008B" stroke-width="2.4"/>
<polygon points="57.07,461.4 71.97,461.4 71.97,469.1 69.72,471.6 71.97,474.1 71.97,477.6 57.07,477.6 57.07,474.1 59.32,471.6 57.07,469.1" fill="#00008B" stroke="#00008B" stroke-width="1.5" stroke-linejoin="round"/>
<line x1="59.52" y1="471.6" x2="69.52" y2="471.6" stroke="#000" stroke-width="2.3"/>
<line x1="87.95" y1="372.4" x2="87.95" y2="433.7" stroke="#FF8C00" stroke-width="1.5"/>
<line x1="87.95" y1="477.1" x2="87.95" y2="479.7" stroke="#FF8C00" stroke-width="1.5"/>
<line x1="83.25" y1="372.4" x2="92.65" y2="372.4" stroke="#FF8C00" stroke-width="2.4"/>
<line x1="83.25" y1="479.7" x2="92.65" y2="479.7" stroke="#FF8C00" stroke-width="2.4"/>
<polygon points="80.5,433.7 95.4,433.7 95.4,458 92.7,461 95.4,464 95.4,477.1 80.5,477.1 80.5,464 83.2,461 80.5,458" fill="#FF8C00" stroke="#FF8C00" stroke-width="1.5" stroke-linejoin="round"/>
<line x1="82.95" y1="461" x2="92.95" y2="461" stroke="#000" stroke-width="2.3"/>
<line x1="111.38" y1="379.2" x2="111.38" y2="438.2" stroke="#C8C8C8" stroke-width="1"/>
<line x1="111.38" y1="479.4" x2="111.38" y2="479.7" stroke="#C8C8C8" stroke-width="1"/>
<line x1="106.68" y1="379.2" x2="116.08" y2="379.2" stroke="#D2D2D2" stroke-width="2.4"/>
<line x1="106.68" y1="479.7" x2="116.08" y2="479.7" stroke="#D2D2D2" stroke-width="2.4"/>
<polygon points="103.93,438.2 118.83,438.2 118.83,462.8 115.86,466.1 118.83,469.4 118.83,479.4 103.93,479.4 103.93,469.4 106.9,466.1 103.93,462.8" fill="#D2D2D2" stroke="#D2D2D2" stroke-width="1.5" stroke-linejoin="round"/>
<line x1="106.38" y1="466.1" x2="116.38" y2="466.1" stroke="#000" stroke-width="2.3"/>
<line x1="66.73" y1="363.3" x2="85.73" y2="363.3" stroke="#000" stroke-width="1.3"/>
<path d="M70.38 357.7V362.3M67.63 358.85L73.13 361.15M67.63 361.15L73.13 358.85" stroke="#000" stroke-width="1.2" fill="none"/>
<path d="M76.23 357.7V362.3M73.48 358.85L78.98 361.15M73.48 361.15L78.98 358.85" stroke="#000" stroke-width="1.2" fill="none"/>
<path d="M82.08 357.7V362.3M79.33 358.85L84.83 361.15M79.33 361.15L84.83 358.85" stroke="#000" stroke-width="1.2" fill="none"/>
<line x1="90.17" y1="363.3" x2="109.17" y2="363.3" stroke="#000" stroke-width="1.3"/>
<path d="M93.82 357.7V362.3M91.07 358.85L96.57 361.15M91.07 361.15L96.57 358.85" stroke="#000" stroke-width="1.2" fill="none"/>
<path d="M99.67 357.7V362.3M96.92 358.85L102.42 361.15M96.92 361.15L102.42 358.85" stroke="#000" stroke-width="1.2" fill="none"/>
<path d="M105.52 357.7V362.3M102.77 358.85L108.27 361.15M102.77 361.15L108.27 358.85" stroke="#000" stroke-width="1.2" fill="none"/>
<line x1="151.99" y1="432.3" x2="151.99" y2="457.3" stroke="#00008B" stroke-width="1.8"/>
<line x1="151.99" y1="477.1" x2="151.99" y2="479.7" stroke="#00008B" stroke-width="1.8"/>
<line x1="147.29" y1="432.3" x2="156.69" y2="432.3" stroke="#00008B" stroke-width="2.4"/>
<line x1="147.29" y1="479.7" x2="156.69" y2="479.7" stroke="#00008B" stroke-width="2.4"/>
<polygon points="144.54,457.3 159.44,457.3 159.44,467 157.19,469.5 159.44,472 159.44,477.1 144.54,477.1 144.54,472 146.79,469.5 144.54,467" fill="#00008B" stroke="#00008B" stroke-width="1.5" stroke-linejoin="round"/>
<line x1="146.99" y1="469.5" x2="156.99" y2="469.5" stroke="#000" stroke-width="2.3"/>
<line x1="175.42" y1="386.4" x2="175.42" y2="437" stroke="#FF8C00" stroke-width="1.5"/>
<line x1="175.42" y1="476.6" x2="175.42" y2="479.7" stroke="#FF8C00" stroke-width="1.5"/>
<line x1="170.72" y1="386.4" x2="180.12" y2="386.4" stroke="#FF8C00" stroke-width="2.4"/>
<line x1="170.72" y1="479.7" x2="180.12" y2="479.7" stroke="#FF8C00" stroke-width="2.4"/>
<polygon points="167.97,437 182.87,437 182.87,458 180.17,461 182.87,464 182.87,476.6 167.97,476.6 167.97,464 170.67,461 167.97,458" fill="#FF8C00" stroke="#FF8C00" stroke-width="1.5" stroke-linejoin="round"/>
<line x1="170.42" y1="461" x2="180.42" y2="461" stroke="#000" stroke-width="2.3"/>
<line x1="198.86" y1="405.9" x2="198.86" y2="446.7" stroke="#C8C8C8" stroke-width="1"/>
<line x1="198.86" y1="479.3" x2="198.86" y2="479.7" stroke="#C8C8C8" stroke-width="1"/>
<line x1="194.16" y1="405.9" x2="203.56" y2="405.9" stroke="#D2D2D2" stroke-width="2.4"/>
<line x1="194.16" y1="479.7" x2="203.56" y2="479.7" stroke="#D2D2D2" stroke-width="2.4"/>
<polygon points="191.41,446.7 206.31,446.7 206.31,463.8 203.31,467.8 206.31,471.8 206.31,479.3 191.41,479.3 191.41,471.8 194.41,467.8 191.41,463.8" fill="#D2D2D2" stroke="#D2D2D2" stroke-width="1.5" stroke-linejoin="round"/>
<line x1="193.86" y1="467.8" x2="203.86" y2="467.8" stroke="#000" stroke-width="2.3"/>
<line x1="154.21" y1="363.3" x2="173.21" y2="363.3" stroke="#000" stroke-width="1.3"/>
<path d="M157.86 357.7V362.3M155.11 358.85L160.61 361.15M155.11 361.15L160.61 358.85" stroke="#000" stroke-width="1.2" fill="none"/>
<path d="M163.71 357.7V362.3M160.96 358.85L166.46 361.15M160.96 361.15L166.46 358.85" stroke="#000" stroke-width="1.2" fill="none"/>
<path d="M169.56 357.7V362.3M166.81 358.85L172.31 361.15M166.81 361.15L172.31 358.85" stroke="#000" stroke-width="1.2" fill="none"/>
<line x1="177.64" y1="363.3" x2="196.64" y2="363.3" stroke="#000" stroke-width="1.3"/>
<path d="M181.29 357.7V362.3M178.54 358.85L184.04 361.15M178.54 361.15L184.04 358.85" stroke="#000" stroke-width="1.2" fill="none"/>
<path d="M187.14 357.7V362.3M184.39 358.85L189.89 361.15M184.39 361.15L189.89 358.85" stroke="#000" stroke-width="1.2" fill="none"/>
<path d="M192.99 357.7V362.3M190.24 358.85L195.74 361.15M190.24 361.15L195.74 358.85" stroke="#000" stroke-width="1.2" fill="none"/>
<line x1="239.47" y1="439.6" x2="239.47" y2="460.2" stroke="#00008B" stroke-width="1.8"/>
<line x1="239.47" y1="476" x2="239.47" y2="479.7" stroke="#00008B" stroke-width="1.8"/>
<line x1="234.77" y1="439.6" x2="244.17" y2="439.6" stroke="#00008B" stroke-width="2.4"/>
<line x1="234.77" y1="479.7" x2="244.17" y2="479.7" stroke="#00008B" stroke-width="2.4"/>
<polygon points="232.02,460.2 246.92,460.2 246.92,467.9 244.67,470.4 246.92,472.9 246.92,476 232.02,476 232.02,472.9 234.27,470.4 232.02,467.9" fill="#00008B" stroke="#00008B" stroke-width="1.5" stroke-linejoin="round"/>
<line x1="234.47" y1="470.4" x2="244.47" y2="470.4" stroke="#000" stroke-width="2.3"/>
<line x1="262.9" y1="391.5" x2="262.9" y2="440.4" stroke="#FF8C00" stroke-width="1.5"/>
<line x1="262.9" y1="476" x2="262.9" y2="479.7" stroke="#FF8C00" stroke-width="1.5"/>
<line x1="258.2" y1="391.5" x2="267.6" y2="391.5" stroke="#FF8C00" stroke-width="2.4"/>
<line x1="258.2" y1="479.7" x2="267.6" y2="479.7" stroke="#FF8C00" stroke-width="2.4"/>
<polygon points="255.45,440.4 270.35,440.4 270.35,461.3 267.35,465.3 270.35,469.3 270.35,476 255.45,476 255.45,469.3 258.45,465.3 255.45,461.3" fill="#FF8C00" stroke="#FF8C00" stroke-width="1.5" stroke-linejoin="round"/>
<line x1="257.9" y1="465.3" x2="267.9" y2="465.3" stroke="#000" stroke-width="2.3"/>
<line x1="286.33" y1="454" x2="286.33" y2="468.7" stroke="#C8C8C8" stroke-width="1"/>
<line x1="286.33" y1="478.8" x2="286.33" y2="479.7" stroke="#C8C8C8" stroke-width="1"/>
<line x1="281.63" y1="454" x2="291.03" y2="454" stroke="#D2D2D2" stroke-width="2.4"/>
<line x1="281.63" y1="479.7" x2="291.03" y2="479.7" stroke="#D2D2D2" stroke-width="2.4"/>
<polygon points="278.88,468.7 293.78,468.7 293.78,474.6 291.98,476.6 293.78,478.6 293.78,478.8 278.88,478.8 278.88,478.6 280.68,476.6 278.88,474.6" fill="#D2D2D2" stroke="#D2D2D2" stroke-width="1.5" stroke-linejoin="round"/>
<line x1="281.33" y1="476.6" x2="291.33" y2="476.6" stroke="#000" stroke-width="2.3"/>
<line x1="241.68" y1="363.3" x2="260.68" y2="363.3" stroke="#000" stroke-width="1.3"/>
<path d="M245.33 357.7V362.3M242.58 358.85L248.08 361.15M242.58 361.15L248.08 358.85" stroke="#000" stroke-width="1.2" fill="none"/>
<path d="M251.18 357.7V362.3M248.43 358.85L253.93 361.15M248.43 361.15L253.93 358.85" stroke="#000" stroke-width="1.2" fill="none"/>
<path d="M257.03 357.7V362.3M254.28 358.85L259.78 361.15M254.28 361.15L259.78 358.85" stroke="#000" stroke-width="1.2" fill="none"/>
<line x1="265.12" y1="363.3" x2="284.12" y2="363.3" stroke="#000" stroke-width="1.3"/>
<path d="M268.77 357.7V362.3M266.02 358.85L271.52 361.15M266.02 361.15L271.52 358.85" stroke="#000" stroke-width="1.2" fill="none"/>
<path d="M274.62 357.7V362.3M271.87 358.85L277.37 361.15M271.87 361.15L277.37 358.85" stroke="#000" stroke-width="1.2" fill="none"/>
<path d="M280.47 357.7V362.3M277.72 358.85L283.22 361.15M277.72 361.15L283.22 358.85" stroke="#000" stroke-width="1.2" fill="none"/>
<line x1="326.94" y1="440.2" x2="326.94" y2="462.8" stroke="#00008B" stroke-width="1.8"/>
<line x1="326.94" y1="479.4" x2="326.94" y2="479.7" stroke="#00008B" stroke-width="1.8"/>
<line x1="322.24" y1="440.2" x2="331.64" y2="440.2" stroke="#00008B" stroke-width="2.4"/>
<line x1="322.24" y1="479.7" x2="331.64" y2="479.7" stroke="#00008B" stroke-width="2.4"/>
<polygon points="319.49,462.8 334.39,462.8 334.39,470.7 332.14,473.2 334.39,475.7 334.39,479.4 319.49,479.4 319.49,475.7 321.74,473.2 319.49,470.7" fill="#00008B" stroke="#00008B" stroke-width="1.5" stroke-linejoin="round"/>
<line x1="321.94" y1="473.2" x2="331.94" y2="473.2" stroke="#000" stroke-width="2.3"/>
<line x1="350.37" y1="379.3" x2="350.37" y2="436" stroke="#FF8C00" stroke-width="1.5"/>
<line x1="350.37" y1="479.4" x2="350.37" y2="479.7" stroke="#FF8C00" stroke-width="1.5"/>
<line x1="345.67" y1="379.3" x2="355.07" y2="379.3" stroke="#FF8C00" stroke-width="2.4"/>
<line x1="345.67" y1="479.7" x2="355.07" y2="479.7" stroke="#FF8C00" stroke-width="2.4"/>
<polygon points="342.92,436 357.82,436 357.82,457.2 354.82,462.2 357.82,467.2 357.82,479.4 342.92,479.4 342.92,467.2 345.92,462.2 342.92,457.2" fill="#FF8C00" stroke="#FF8C00" stroke-width="1.5" stroke-linejoin="round"/>
<line x1="345.37" y1="462.2" x2="355.37" y2="462.2" stroke="#000" stroke-width="2.3"/>
<line x1="373.81" y1="412.7" x2="373.81" y2="451.8" stroke="#C8C8C8" stroke-width="1"/>
<line x1="373.81" y1="479.4" x2="373.81" y2="479.7" stroke="#C8C8C8" stroke-width="1"/>
<line x1="369.11" y1="412.7" x2="378.51" y2="412.7" stroke="#D2D2D2" stroke-width="2.4"/>
<line x1="369.11" y1="479.7" x2="378.51" y2="479.7" stroke="#D2D2D2" stroke-width="2.4"/>
<polygon points="366.36,451.8 381.26,451.8 381.26,465.4 378.26,470.4 381.26,475.4 381.26,479.4 366.36,479.4 366.36,475.4 369.36,470.4 366.36,465.4" fill="#D2D2D2" stroke="#D2D2D2" stroke-width="1.5" stroke-linejoin="round"/>
<line x1="368.81" y1="470.4" x2="378.81" y2="470.4" stroke="#000" stroke-width="2.3"/>
<line x1="329.16" y1="363.3" x2="348.16" y2="363.3" stroke="#000" stroke-width="1.3"/>
<path d="M332.81 357.7V362.3M330.06 358.85L335.56 361.15M330.06 361.15L335.56 358.85" stroke="#000" stroke-width="1.2" fill="none"/>
<path d="M338.66 357.7V362.3M335.91 358.85L341.41 361.15M335.91 361.15L341.41 358.85" stroke="#000" stroke-width="1.2" fill="none"/>
<path d="M344.51 357.7V362.3M341.76 358.85L347.26 361.15M341.76 361.15L347.26 358.85" stroke="#000" stroke-width="1.2" fill="none"/>
<line x1="352.59" y1="363.3" x2="371.59" y2="363.3" stroke="#000" stroke-width="1.3"/>
<path d="M359.17 357.7V362.3M356.42 358.85L361.92 361.15M356.42 361.15L361.92 358.85" stroke="#000" stroke-width="1.2" fill="none"/>
<path d="M365.02 357.7V362.3M362.27 358.85L367.77 361.15M362.27 361.15L367.77 358.85" stroke="#000" stroke-width="1.2" fill="none"/>
<line x1="414.42" y1="443.6" x2="414.42" y2="462.8" stroke="#00008B" stroke-width="1.8"/>
<line x1="414.42" y1="478" x2="414.42" y2="479.7" stroke="#00008B" stroke-width="1.8"/>
<line x1="409.72" y1="443.6" x2="419.12" y2="443.6" stroke="#00008B" stroke-width="2.4"/>
<line x1="409.72" y1="479.7" x2="419.12" y2="479.7" stroke="#00008B" stroke-width="2.4"/>
<polygon points="406.97,462.8 421.87,462.8 421.87,470.4 419.62,472.9 421.87,475.4 421.87,478 406.97,478 406.97,475.4 409.22,472.9 406.97,470.4" fill="#00008B" stroke="#00008B" stroke-width="1.5" stroke-linejoin="round"/>
<line x1="409.42" y1="472.9" x2="419.42" y2="472.9" stroke="#000" stroke-width="2.3"/>
<line x1="437.85" y1="379.3" x2="437.85" y2="438.2" stroke="#FF8C00" stroke-width="1.5"/>
<line x1="437.85" y1="479.4" x2="437.85" y2="479.7" stroke="#FF8C00" stroke-width="1.5"/>
<line x1="433.15" y1="379.3" x2="442.55" y2="379.3" stroke="#FF8C00" stroke-width="2.4"/>
<line x1="433.15" y1="479.7" x2="442.55" y2="479.7" stroke="#FF8C00" stroke-width="2.4"/>
<polygon points="430.4,438.2 445.3,438.2 445.3,460.3 442.3,465.3 445.3,470.3 445.3,479.4 430.4,479.4 430.4,470.3 433.4,465.3 430.4,460.3" fill="#FF8C00" stroke="#FF8C00" stroke-width="1.5" stroke-linejoin="round"/>
<line x1="432.85" y1="465.3" x2="442.85" y2="465.3" stroke="#000" stroke-width="2.3"/>
<line x1="461.28" y1="416.7" x2="461.28" y2="453.5" stroke="#C8C8C8" stroke-width="1"/>
<line x1="461.28" y1="478.8" x2="461.28" y2="479.7" stroke="#C8C8C8" stroke-width="1"/>
<line x1="456.58" y1="416.7" x2="465.98" y2="416.7" stroke="#D2D2D2" stroke-width="2.4"/>
<line x1="456.58" y1="479.7" x2="465.98" y2="479.7" stroke="#D2D2D2" stroke-width="2.4"/>
<polygon points="453.83,453.5 468.73,453.5 468.73,473.8 466.03,476.8 468.73,478.8 468.73,478.8 453.83,478.8 453.83,478.8 456.53,476.8 453.83,473.8" fill="#D2D2D2" stroke="#D2D2D2" stroke-width="1.5" stroke-linejoin="round"/>
<line x1="456.28" y1="476.8" x2="466.28" y2="476.8" stroke="#000" stroke-width="2.3"/>
<line x1="416.63" y1="363.3" x2="435.63" y2="363.3" stroke="#000" stroke-width="1.3"/>
<path d="M420.28 357.7V362.3M417.53 358.85L423.03 361.15M417.53 361.15L423.03 358.85" stroke="#000" stroke-width="1.2" fill="none"/>
<path d="M426.13 357.7V362.3M423.38 358.85L428.88 361.15M423.38 361.15L428.88 358.85" stroke="#000" stroke-width="1.2" fill="none"/>
<path d="M431.98 357.7V362.3M429.23 358.85L434.73 361.15M429.23 361.15L434.73 358.85" stroke="#000" stroke-width="1.2" fill="none"/>
<line x1="440.07" y1="363.3" x2="459.07" y2="363.3" stroke="#000" stroke-width="1.3"/>
<path d="M443.72 357.7V362.3M440.97 358.85L446.47 361.15M440.97 361.15L446.47 358.85" stroke="#000" stroke-width="1.2" fill="none"/>
<path d="M449.57 357.7V362.3M446.82 358.85L452.32 361.15M446.82 361.15L452.32 358.85" stroke="#000" stroke-width="1.2" fill="none"/>
<path d="M455.42 357.7V362.3M452.67 358.85L458.17 361.15M452.67 361.15L458.17 358.85" stroke="#000" stroke-width="1.2" fill="none"/>
<line x1="52.8" y1="535.4" x2="52.8" y2="665.25" stroke="#000" stroke-width="1.5"/>
<line x1="52.05" y1="664.5" x2="123.1" y2="664.5" stroke="#000" stroke-width="1.5"/>
<line x1="46.4" y1="664.5" x2="52.8" y2="664.5" stroke="#333" stroke-width="0.9"/>
<line x1="46.4" y1="636.02" x2="52.8" y2="636.02" stroke="#333" stroke-width="0.9"/>
<line x1="46.4" y1="607.55" x2="52.8" y2="607.55" stroke="#333" stroke-width="0.9"/>
<line x1="46.4" y1="579.08" x2="52.8" y2="579.08" stroke="#333" stroke-width="0.9"/>
<line x1="46.4" y1="550.6" x2="52.8" y2="550.6" stroke="#333" stroke-width="0.9"/>
<text x="40.5" y="669" font-size="12.6" text-anchor="end" textLength="18.8" lengthAdjust="spacingAndGlyphs" fill="#000" stroke="#000" stroke-width="0.5">0.0</text>
<text x="40.5" y="640.52" font-size="12.6" text-anchor="end" textLength="18.8" lengthAdjust="spacingAndGlyphs" fill="#000" stroke="#000" stroke-width="0.5">0.1</text>
<text x="40.5" y="612.05" font-size="12.6" text-anchor="end" textLength="18.8" lengthAdjust="spacingAndGlyphs" fill="#000" stroke="#000" stroke-width="0.5">0.2</text>
<text x="40.5" y="583.58" font-size="12.6" text-anchor="end" textLength="18.8" lengthAdjust="spacingAndGlyphs" fill="#000" stroke="#000" stroke-width="0.5">0.3</text>
<text x="40.5" y="555.1" font-size="12.6" text-anchor="end" textLength="18.8" lengthAdjust="spacingAndGlyphs" fill="#000" stroke="#000" stroke-width="0.5">0.4</text>
<line x1="140.27" y1="535.4" x2="140.27" y2="665.25" stroke="#000" stroke-width="1.5"/>
<line x1="139.52" y1="664.5" x2="210.57" y2="664.5" stroke="#000" stroke-width="1.5"/>
<line x1="133.87" y1="664.5" x2="140.27" y2="664.5" stroke="#333" stroke-width="0.9"/>
<line x1="133.87" y1="636.02" x2="140.27" y2="636.02" stroke="#333" stroke-width="0.9"/>
<line x1="133.87" y1="607.55" x2="140.27" y2="607.55" stroke="#333" stroke-width="0.9"/>
<line x1="133.87" y1="579.08" x2="140.27" y2="579.08" stroke="#333" stroke-width="0.9"/>
<line x1="133.87" y1="550.6" x2="140.27" y2="550.6" stroke="#333" stroke-width="0.9"/>
<line x1="227.75" y1="535.4" x2="227.75" y2="665.25" stroke="#000" stroke-width="1.5"/>
<line x1="227" y1="664.5" x2="298.05" y2="664.5" stroke="#000" stroke-width="1.5"/>
<line x1="221.35" y1="664.5" x2="227.75" y2="664.5" stroke="#333" stroke-width="0.9"/>
<line x1="221.35" y1="636.02" x2="227.75" y2="636.02" stroke="#333" stroke-width="0.9"/>
<line x1="221.35" y1="607.55" x2="227.75" y2="607.55" stroke="#333" stroke-width="0.9"/>
<line x1="221.35" y1="579.08" x2="227.75" y2="579.08" stroke="#333" stroke-width="0.9"/>
<line x1="221.35" y1="550.6" x2="227.75" y2="550.6" stroke="#333" stroke-width="0.9"/>
<line x1="315.22" y1="535.4" x2="315.22" y2="665.25" stroke="#000" stroke-width="1.5"/>
<line x1="314.47" y1="664.5" x2="385.52" y2="664.5" stroke="#000" stroke-width="1.5"/>
<line x1="308.82" y1="664.5" x2="315.22" y2="664.5" stroke="#333" stroke-width="0.9"/>
<line x1="308.82" y1="636.02" x2="315.22" y2="636.02" stroke="#333" stroke-width="0.9"/>
<line x1="308.82" y1="607.55" x2="315.22" y2="607.55" stroke="#333" stroke-width="0.9"/>
<line x1="308.82" y1="579.08" x2="315.22" y2="579.08" stroke="#333" stroke-width="0.9"/>
<line x1="308.82" y1="550.6" x2="315.22" y2="550.6" stroke="#333" stroke-width="0.9"/>
<line x1="402.7" y1="535.4" x2="402.7" y2="665.25" stroke="#000" stroke-width="1.5"/>
<line x1="401.95" y1="664.5" x2="473" y2="664.5" stroke="#000" stroke-width="1.5"/>
<line x1="396.3" y1="664.5" x2="402.7" y2="664.5" stroke="#333" stroke-width="0.9"/>
<line x1="396.3" y1="636.02" x2="402.7" y2="636.02" stroke="#333" stroke-width="0.9"/>
<line x1="396.3" y1="607.55" x2="402.7" y2="607.55" stroke="#333" stroke-width="0.9"/>
<line x1="396.3" y1="579.08" x2="402.7" y2="579.08" stroke="#333" stroke-width="0.9"/>
<line x1="396.3" y1="550.6" x2="402.7" y2="550.6" stroke="#333" stroke-width="0.9"/>
<rect x="57.2" y="624.5" width="17.4" height="40" fill="#00008B" stroke="#000" stroke-width="1"/>
<rect x="79.1" y="661.5" width="17.4" height="3" fill="#FF8C00" stroke="#000" stroke-width="1"/>
<rect x="101" y="657.8" width="17.4" height="6.7" fill="#D3D3D3" stroke="#000" stroke-width="1"/>
<text x="65.9" y="623.2" font-size="12.6" text-anchor="middle" textLength="15.2" lengthAdjust="spacingAndGlyphs" fill="#000" stroke="#000" stroke-width="0.5">56</text>
<text x="87.8" y="660.2" font-size="12.6" text-anchor="middle" textLength="15.2" lengthAdjust="spacingAndGlyphs" fill="#000" stroke="#000" stroke-width="0.5">10</text>
<rect x="144.8" y="622.2" width="17.4" height="42.3" fill="#00008B" stroke="#000" stroke-width="1"/>
<rect x="166.7" y="658.9" width="17.4" height="5.6" fill="#FF8C00" stroke="#000" stroke-width="1"/>
<rect x="188.6" y="659.7" width="17.4" height="4.8" fill="#D3D3D3" stroke="#000" stroke-width="1"/>
<text x="153.5" y="620.9" font-size="12.6" text-anchor="middle" textLength="15.2" lengthAdjust="spacingAndGlyphs" fill="#000" stroke="#000" stroke-width="0.5">51</text>
<text x="175.4" y="657.6" font-size="12.6" text-anchor="middle" textLength="7.6" lengthAdjust="spacingAndGlyphs" fill="#000" stroke="#000" stroke-width="0.5">7</text>
<rect x="232.3" y="640.3" width="17.4" height="24.2" fill="#00008B" stroke="#000" stroke-width="1"/>
<rect x="254.2" y="660.5" width="17.4" height="4" fill="#FF8C00" stroke="#000" stroke-width="1"/>
<rect x="276.1" y="653.8" width="17.4" height="10.7" fill="#D3D3D3" stroke="#000" stroke-width="1"/>
<text x="241" y="639" font-size="12.6" text-anchor="middle" textLength="15.2" lengthAdjust="spacingAndGlyphs" fill="#000" stroke="#000" stroke-width="0.5">22</text>
<text x="262.9" y="659.2" font-size="12.6" text-anchor="middle" textLength="7.6" lengthAdjust="spacingAndGlyphs" fill="#000" stroke="#000" stroke-width="0.5">3</text>
<rect x="319.4" y="573.7" width="17.4" height="90.8" fill="#00008B" stroke="#000" stroke-width="1"/>
<rect x="341.3" y="654.4" width="17.4" height="10.1" fill="#FF8C00" stroke="#000" stroke-width="1"/>
<rect x="363.2" y="658.6" width="17.4" height="5.9" fill="#D3D3D3" stroke="#000" stroke-width="1"/>
<text x="328.1" y="572.4" font-size="12.6" text-anchor="middle" textLength="22.8" lengthAdjust="spacingAndGlyphs" fill="#000" stroke="#000" stroke-width="0.5">150</text>
<text x="350" y="653.1" font-size="12.6" text-anchor="middle" textLength="7.6" lengthAdjust="spacingAndGlyphs" fill="#000" stroke="#000" stroke-width="0.5">7</text>
<rect x="406.8" y="551.6" width="17.4" height="112.9" fill="#00008B" stroke="#000" stroke-width="1"/>
<rect x="428.7" y="659.4" width="17.4" height="5.1" fill="#FF8C00" stroke="#000" stroke-width="1"/>
<rect x="450.6" y="662.8" width="17.4" height="1.7" fill="#D3D3D3" stroke="#000" stroke-width="1"/>
<text x="415.5" y="550.3" font-size="12.6" text-anchor="middle" textLength="22.8" lengthAdjust="spacingAndGlyphs" fill="#000" stroke="#000" stroke-width="0.5">204</text>
<text x="437.4" y="658.1" font-size="12.6" text-anchor="middle" textLength="7.6" lengthAdjust="spacingAndGlyphs" fill="#000" stroke="#000" stroke-width="0.5">8</text>
<line x1="89.75" y1="635.5" x2="107.45" y2="635.5" stroke="#000" stroke-width="1.3"/>
<path d="M98.6 629.9V634.5M95.85 631.05L101.35 633.35M95.85 633.35L101.35 631.05" stroke="#000" stroke-width="1.2" fill="none"/>
<line x1="439.45" y1="635.9" x2="457.55" y2="635.9" stroke="#000" stroke-width="1.3"/>
<path d="M445.57 630.3V634.9M442.82 631.45L448.32 633.75M442.82 633.75L448.32 631.45" stroke="#000" stroke-width="1.2" fill="none"/>
<path d="M451.43 630.3V634.9M448.68 631.45L454.18 633.75M448.68 633.75L454.18 631.45" stroke="#000" stroke-width="1.2" fill="none"/>
<rect x="234.3" y="698.1" width="11.3" height="10.6" fill="#00008B" rx="1"/>
<text x="257" y="708.1" font-size="12.5" text-anchor="start" textLength="60.2" lengthAdjust="spacingAndGlyphs" fill="#000" stroke="#000" stroke-width="0.5">annotated</text>
<rect x="234.3" y="715.54" width="11.3" height="10.6" fill="#228B22" rx="1"/>
<text x="257" y="725.54" font-size="12.5" text-anchor="start" textLength="34.1" lengthAdjust="spacingAndGlyphs" fill="#000" stroke="#000" stroke-width="0.5">3&#39;UTR</text>
<rect x="234.3" y="732.98" width="11.3" height="10.6" fill="#8B0000" rx="1"/>
<text x="257" y="742.98" font-size="12.5" text-anchor="start" textLength="34.1" lengthAdjust="spacingAndGlyphs" fill="#000" stroke="#000" stroke-width="0.5">5&#39;UTR</text>
<rect x="234.3" y="750.42" width="11.3" height="10.6" fill="#FFD700" rx="1"/>
<text x="257" y="760.42" font-size="12.5" text-anchor="start" textLength="45" lengthAdjust="spacingAndGlyphs" fill="#000" stroke="#000" stroke-width="0.5">lincRNA</text>
<rect x="234.3" y="767.86" width="11.3" height="10.6" fill="#6495ED" rx="1"/>
<text x="257" y="777.86" font-size="12.5" text-anchor="start" textLength="72.2" lengthAdjust="spacingAndGlyphs" fill="#000" stroke="#000" stroke-width="0.5">CDS overlap</text>
<rect x="234.3" y="785.3" width="11.3" height="10.6" fill="#9370DB" rx="1"/>
<text x="257" y="795.3" font-size="12.5" text-anchor="start" textLength="31.2" lengthAdjust="spacingAndGlyphs" fill="#000" stroke="#000" stroke-width="0.5">other</text>
<rect x="366.5" y="749.9" width="10.4" height="10.6" fill="#FF8C00" rx="1"/>
<text x="388.9" y="759.4" font-size="12.5" text-anchor="start" textLength="31.3" lengthAdjust="spacingAndGlyphs" fill="#000" stroke="#000" stroke-width="0.5">novel</text>
<rect x="366.5" y="772.2" width="10.4" height="10.6" fill="#D3D3D3" rx="1"/>
<text x="388.9" y="781.7" font-size="12.5" text-anchor="start" textLength="40.3" lengthAdjust="spacingAndGlyphs" fill="#000" stroke="#000" stroke-width="0.5">control</text>
<path d="M342.3 717.6L354.9 755.3L341.9 797.8" fill="none" stroke="#000" stroke-width="2.2" stroke-linecap="round" stroke-linejoin="round"/>
</svg>
</body></html>
